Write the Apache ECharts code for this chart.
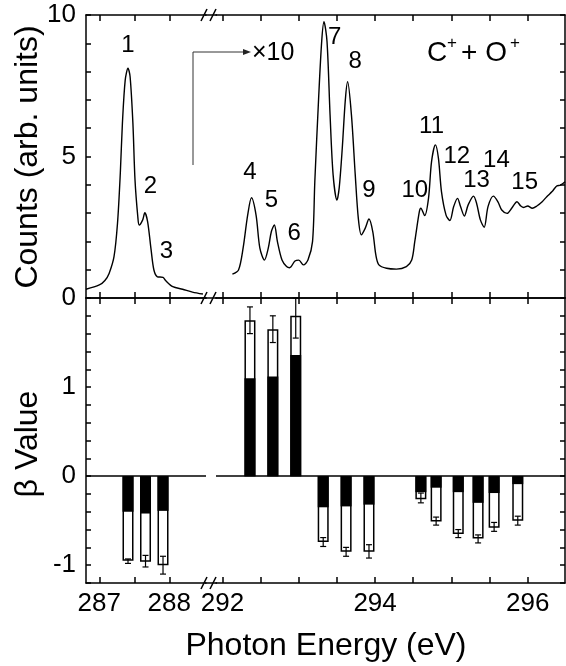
<!DOCTYPE html>
<html>
<head>
<meta charset="utf-8">
<script src="https://cdn.jsdelivr.net/npm/echarts@6/dist/echarts.min.js"></script>
<style>
  html, body { margin: 0; padding: 0; background: #fff; }
  #main { width: 566px; height: 666px; }
</style>
</head>
<body>
<div id="main"></div>
<script>
// photon energy (eV) and counts of the ion yield spectrum
const specX = [
  286.81, 287.00, 287.08, 287.14, 287.21, 287.26, 287.30, 287.33, 287.37, 287.41,
  287.44, 287.48, 287.51, 287.55, 287.57, 287.62, 287.65, 287.69, 287.74, 287.78,
  287.83, 287.91, 287.95, 288.05, 288.19, 288.33, 288.48,
  292.13, 292.21, 292.27, 292.33, 292.38, 292.44, 292.49, 292.55, 292.60, 292.64,
  292.68, 292.72, 292.78, 292.84, 292.88, 292.95, 293.00, 293.06, 293.12, 293.18,
  293.21, 293.26, 293.30, 293.33, 293.37, 293.41, 293.45, 293.50, 293.53, 293.57,
  293.61, 293.64, 293.69, 293.74, 293.78, 293.82, 293.87, 293.92, 293.97, 294.01,
  294.05, 294.15, 294.28, 294.41, 294.48, 294.52, 294.58, 294.60, 294.65, 294.70,
  294.74, 294.79, 294.83, 294.87, 294.93, 294.98, 295.03, 295.08, 295.12, 295.17,
  295.22, 295.29, 295.33, 295.38, 295.43, 295.48, 295.55, 295.61, 295.66, 295.73,
  295.79, 295.86, 295.91, 295.95, 296.00, 296.06, 296.12, 296.19, 296.25, 296.32,
  296.38, 296.43, 296.49
];
const specY = [
  0.31, 0.46, 0.62, 0.87, 1.46, 2.64, 4.41, 6.17, 7.70, 8.12,
  7.82, 6.17, 4.17, 2.87, 2.58, 2.76, 3.01, 2.70, 1.70, 0.99,
  0.75, 0.73, 0.61, 0.40, 0.31, 0.21, 0.14,
  0.84, 0.99, 1.76, 2.93, 3.54, 2.93, 1.76, 1.34, 1.76, 2.34,
  2.58, 1.99, 1.34, 1.11, 1.07, 1.31, 1.34, 1.17, 1.34, 1.99,
  4.11, 7.06, 9.06, 9.76, 9.06, 6.47, 4.35, 3.46, 3.90, 5.30,
  7.00, 7.64, 6.47, 4.35, 2.82, 2.23, 2.46, 2.79, 2.34, 1.52,
  1.17, 1.05, 1.02, 1.11, 1.34, 1.99, 3.05, 3.17, 2.91, 3.52,
  4.82, 5.41, 4.94, 3.76, 2.93, 2.74, 3.23, 3.52, 3.23, 2.90,
  3.29, 3.60, 3.35, 2.76, 2.50, 3.23, 3.60, 3.40, 3.11, 2.99,
  3.17, 3.40, 3.25, 3.20, 3.25, 3.17, 3.25, 3.40, 3.58, 3.76,
  3.96, 3.99, 4.11
];

// peak numbers and where their labels sit (eV, counts)
const peakNames = ['1', '2', '3', '4', '5', '6', '7', '8', '9', '10', '11', '12', '13', '14', '15'];
const peakLabelX = [287.41, 287.73, 287.96, 292.36, 292.64, 292.94, 293.47, 293.74, 293.92, 294.52, 294.74, 295.07, 295.33, 295.59, 295.96];
const peakLabelY = [8.94, 3.93, 1.63, 4.45, 3.45, 2.30, 9.20, 8.35, 3.80, 3.82, 6.05, 5.02, 4.17, 4.85, 4.07];

// beta values: black part, total (white) and error bar ends
const barX = [287.41, 287.66, 287.91, 292.36, 292.66, 292.96, 293.32, 293.62, 293.92, 294.60, 294.80, 295.09, 295.35, 295.56, 295.87];
const betaBlack = [-0.40, -0.42, -0.39, 1.10, 1.12, 1.36, -0.35, -0.34, -0.32, -0.18, -0.13, -0.18, -0.30, -0.19, -0.09];
const betaTotal = [-0.95, -0.96, -1.00, 1.75, 1.65, 1.80, -0.74, -0.85, -0.85, -0.26, -0.51, -0.65, -0.70, -0.58, -0.50];
const errLow = [-0.98, -1.02, -1.10, 1.60, 1.50, 1.55, -0.79, -0.90, -0.92, -0.30, -0.55, -0.69, -0.75, -0.62, -0.55];
const errHigh = [-0.93, -0.89, -0.90, 1.90, 1.80, 2.00, -0.69, -0.80, -0.77, -0.19, -0.46, -0.60, -0.66, -0.52, -0.45];

// ticks
const xTicksLow = [287, 287.5, 288];
const xLabelsLow = [287, 288];
const xTicksHigh = [292, 292.5, 293, 293.5, 294, 294.5, 295, 295.5, 296];
const xLabelsHigh = [292, 294, 296];
const countTicks = [0, 1, 2, 3, 4, 5, 6, 7, 8, 9, 10];
const countLabels = [0, 5, 10];
const betaTicks = [-1.2, -1, -0.8, -0.6, -0.4, -0.2, 0, 0.2, 0.4, 0.6, 0.8, 1, 1.2, 1.4, 1.6, 1.8, 2];
const betaLabels = [-1, 0, 1];

const font = '"Liberation Sans", Arial, Helvetica, sans-serif';
const axLine = { color: '#000', width: 1.5 };
const isLow = x => x < 290;
const isHigh = x => !isLow(x);

const chart = echarts.init(document.getElementById('main'));

function xAx(grid, pos, min, max, ticks, labels) {
  return {
    type: 'value', gridIndex: grid, position: pos, min: min, max: max,
    axisLine: { show: true, onZero: false, lineStyle: axLine },
    axisTick: { show: true, inside: true, length: 6, lineStyle: axLine, customValues: ticks },
    axisLabel: labels
      ? { show: true, customValues: labels, fontSize: 26, color: '#000', fontFamily: font, margin: 8 }
      : { show: false },
    splitLine: { show: false }
  };
}

function yAx(grid, pos, min, max, ticks, labels) {
  return {
    type: 'value', gridIndex: grid, position: pos, min: min, max: max,
    axisLine: { show: true, onZero: false, lineStyle: axLine },
    axisTick: { show: true, inside: true, length: 5, lineStyle: axLine, customValues: ticks },
    axisLabel: labels
      ? { show: true, customValues: labels, fontSize: 26, color: '#000', fontFamily: font, margin: 10 }
      : { show: false },
    splitLine: { show: false }
  };
}

const lowMin = 286.81, lowMax = 288.524;
const highMin = 291.915, highMax = 296.489;

function pairs(xs, ys, keep) {
  const out = [];
  xs.forEach((x, i) => { if (keep(x)) out.push([x, ys[i]]); });
  return out;
}

function labelData(keep) {
  const out = [];
  peakLabelX.forEach((x, i) => { if (keep(x)) out.push([x, peakLabelY[i], peakNames[i]]); });
  return out;
}

function errData(keep) {
  const out = [];
  barX.forEach((x, i) => { if (keep(x)) out.push([x, errLow[i], errHigh[i]]); });
  return out;
}

function errItem(params, api) {
  const x = api.value(0);
  const lo = api.coord([x, api.value(1)]);
  const hi = api.coord([x, api.value(2)]);
  const c = 3;
  const st = { stroke: '#000', lineWidth: 1.2 };
  return {
    type: 'group',
    children: [
      { type: 'line', shape: { x1: lo[0], y1: lo[1], x2: hi[0], y2: hi[1] }, style: st },
      { type: 'line', shape: { x1: lo[0] - c, y1: lo[1], x2: lo[0] + c, y2: lo[1] }, style: st },
      { type: 'line', shape: { x1: hi[0] - c, y1: hi[1], x2: hi[0] + c, y2: hi[1] }, style: st }
    ]
  };
}

function spectrum(xi, yi, keep) {
  return {
    type: 'line', xAxisIndex: xi, yAxisIndex: yi, data: pairs(specX, specY, keep),
    smooth: 0.3, symbol: 'none', lineStyle: { color: '#000', width: 1.4 }
  };
}

function peakLabels(xi, yi, keep) {
  return {
    type: 'custom', xAxisIndex: xi, yAxisIndex: yi, data: labelData(keep),
    encode: { x: 0, y: 1 },
    renderItem: (params, api) => {
      const p = api.coord([api.value(0), api.value(1)]);
      return {
        type: 'text', x: p[0], y: p[1],
        style: {
          text: labelData(keep)[params.dataIndex][2],
          font: '24px ' + font, fill: '#000',
          textAlign: 'center', textVerticalAlign: 'middle'
        }
      };
    }
  };
}

function bars(xi, yi, keep) {
  return [
    {
      type: 'bar', xAxisIndex: xi, yAxisIndex: yi, data: pairs(barX, betaTotal, keep),
      barWidth: 11, barGap: '-100%',
      itemStyle: { color: '#fff', borderColor: '#000', borderWidth: 1.5 },
      markLine: {
        silent: true, symbol: ['none', 'none'], label: { show: false },
        lineStyle: { color: '#000', width: 1.5, type: 'solid' },
        data: [{ yAxis: 0 }]
      }
    },
    {
      type: 'bar', xAxisIndex: xi, yAxisIndex: yi, data: pairs(barX, betaBlack, keep),
      barWidth: 11, barGap: '-100%',
      itemStyle: { color: '#000' }
    },
    {
      type: 'custom', xAxisIndex: xi, yAxisIndex: yi, data: errData(keep),
      renderItem: errItem, encode: { x: 0, y: [1, 2] }, z: 5
    }
  ];
}

// axis break marks "//"
const breakYs = [15, 298, 583];
const breakGraphics = [];
breakYs.forEach(y => {
  breakGraphics.push({ type: 'line', shape: { x1: 205, y1: y, x2: 217, y2: y }, style: { stroke: '#000', lineWidth: 1.5 } });
  breakGraphics.push({ type: 'line', shape: { x1: 201, y1: y + 6, x2: 207, y2: y - 6 }, style: { stroke: '#000', lineWidth: 1.5 } });
  breakGraphics.push({ type: 'line', shape: { x1: 210, y1: y + 6, x2: 216, y2: y - 6 }, style: { stroke: '#000', lineWidth: 1.5 } });
});

const textStyle = (text, size, align) => ({
  text: text, font: size + 'px ' + font, fill: '#000',
  textAlign: align || 'center', textVerticalAlign: 'middle'
});

const option = {
  animation: false,
  backgroundColor: '#fff',
  grid: [
    { left: 86, top: 15, width: 120, height: 283 },
    { left: 216, top: 15, width: 349, height: 283 },
    { left: 86, top: 298, width: 120, height: 285 },
    { left: 216, top: 298, width: 349, height: 285 }
  ],
  xAxis: [
    xAx(0, 'bottom', lowMin, lowMax, xTicksLow, null),
    xAx(0, 'top', lowMin, lowMax, xTicksLow, null),
    xAx(1, 'bottom', highMin, highMax, xTicksHigh, null),
    xAx(1, 'top', highMin, highMax, xTicksHigh, null),
    xAx(2, 'bottom', lowMin, lowMax, xTicksLow, xLabelsLow),
    xAx(2, 'top', lowMin, lowMax, xTicksLow, null),
    xAx(3, 'bottom', highMin, highMax, xTicksHigh, xLabelsHigh),
    xAx(3, 'top', highMin, highMax, xTicksHigh, null)
  ],
  yAxis: [
    yAx(0, 'left', 0, 10, countTicks, countLabels),
    yAx(1, 'right', 0, 10, countTicks, null),
    yAx(2, 'left', -1.2, 2, betaTicks, betaLabels),
    yAx(3, 'right', -1.2, 2, betaTicks, null)
  ],
  series: [
    spectrum(0, 0, isLow),
    spectrum(2, 1, isHigh),
    peakLabels(0, 0, isLow),
    peakLabels(2, 1, isHigh),
    ...bars(4, 2, isLow),
    ...bars(6, 3, isHigh)
  ],
  graphic: [
    ...breakGraphics,
    { type: 'text', x: 28, y: 157, rotation: Math.PI / 2, style: textStyle('Counts (arb. units)', 32) },
    { type: 'text', x: 28, y: 444, rotation: Math.PI / 2, style: textStyle('β Value', 32) },
    { type: 'text', x: 326, y: 646, style: textStyle('Photon Energy (eV)', 32) },
    {
      type: 'polyline', shape: { points: [[193, 165], [193, 52], [244, 52]] },
      style: { stroke: '#333', lineWidth: 1, fill: null }
    },
    {
      type: 'polygon', shape: { points: [[251, 52], [243, 49], [243, 55]] },
      style: { fill: '#222' }
    },
    { type: 'text', x: 252, y: 53, style: textStyle('×10', 25, 'left') },
    // C+ + O+ with raised plus signs
    { type: 'text', x: 427, y: 53, style: textStyle('C', 28, 'left') },
    { type: 'text', x: 447, y: 43, style: textStyle('+', 17, 'left') },
    { type: 'text', x: 461, y: 53, style: textStyle('+ O', 28, 'left') },
    { type: 'text', x: 510, y: 43, style: textStyle('+', 17, 'left') }
  ]
};

chart.setOption(option);
</script>
</body>
</html>
